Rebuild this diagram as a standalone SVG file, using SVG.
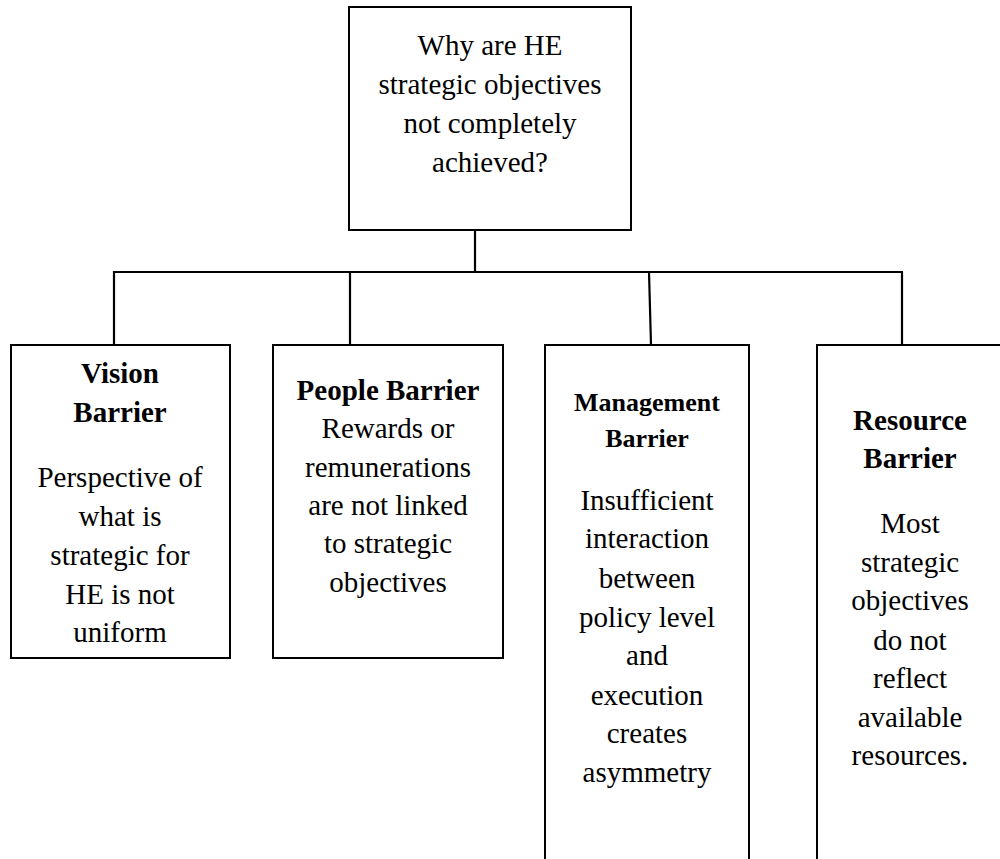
<svg xmlns="http://www.w3.org/2000/svg" width="1000" height="859" viewBox="0 0 1000 859">
  <style>
    .box { fill: #ffffff; stroke: #000000; stroke-width: 2; }
    .wire { fill: none; stroke: #000000; stroke-width: 2.2; }
    .label { font-family: 'Liberation Serif', 'Times New Roman', Times, serif; font-size: 29px; fill: #000000; text-anchor: middle; }
    .head { font-weight: bold; }
    .head-sm { font-weight: bold; font-size: 26px; }
  </style>
  <rect width="1000" height="859" fill="#ffffff"/>

  <!-- tree connectors -->
  <g id="connectors">
    <path class="wire" d="M475 230 V272"/>
    <path class="wire" d="M114 345 V272 H903"/>
    <path class="wire" d="M350 272 V345"/>
    <path class="wire" stroke-width="1.6" d="M649 272 L651 345"/>
    <path class="wire" stroke-width="3" d="M902 272 V345"/>
  </g>

  <!-- root question -->
  <g id="root" class="label" font-family="Liberation Serif, serif">
    <rect class="box" x="349" y="7" width="282" height="223"/>
    <text x="490" y="55">Why are HE</text>
    <text x="490" y="94">strategic objectives</text>
    <text x="490" y="133">not completely</text>
    <text x="490" y="172">achieved?</text>
  </g>

  <g id="vision" class="label" font-family="Liberation Serif, serif">
    <rect class="box" x="11" y="345" width="219" height="313"/>
    <text class="head" x="120" y="383">Vision</text>
    <text class="head" x="120" y="422">Barrier</text>
    <text x="120" y="487">Perspective of</text>
    <text x="120" y="526">what is</text>
    <text x="120" y="565">strategic for</text>
    <text x="120" y="604">HE is not</text>
    <text x="120" y="642">uniform</text>
  </g>

  <g id="people" class="label" font-family="Liberation Serif, serif">
    <rect class="box" x="273" y="345" width="230" height="313"/>
    <text class="head" x="388" y="400">People Barrier</text>
    <text x="388" y="438">Rewards or</text>
    <text x="388" y="477">remunerations</text>
    <text x="388" y="515">are not linked</text>
    <text x="388" y="553">to strategic</text>
    <text x="388" y="592">objectives</text>
  </g>

  <g id="management" class="label" font-family="Liberation Serif, serif">
    <rect class="box" x="545" y="345" width="204" height="530"/>
    <text class="head-sm" x="647" y="411">Management</text>
    <text class="head-sm" x="647" y="447">Barrier</text>
    <text x="647" y="510">Insufficient</text>
    <text x="647" y="548">interaction</text>
    <text x="647" y="588">between</text>
    <text x="647" y="627">policy level</text>
    <text x="647" y="665">and</text>
    <text x="647" y="705">execution</text>
    <text x="647" y="743">creates</text>
    <text x="647" y="782">asymmetry</text>
  </g>

  <g id="resource" class="label" font-family="Liberation Serif, serif">
    <rect class="box" x="817" y="345" width="190" height="530"/>
    <text class="head" x="910" y="430">Resource</text>
    <text class="head" x="910" y="468">Barrier</text>
    <text x="910" y="533">Most</text>
    <text x="910" y="572">strategic</text>
    <text x="910" y="610">objectives</text>
    <text x="910" y="650">do not</text>
    <text x="910" y="688">reflect</text>
    <text x="910" y="727">available</text>
    <text x="910" y="765">resources.</text>
  </g>
</svg>
